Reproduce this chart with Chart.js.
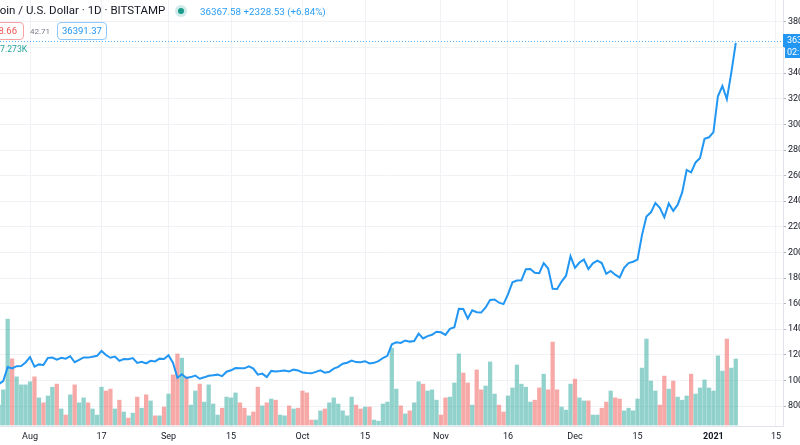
<!DOCTYPE html>
<html><head><meta charset="utf-8">
<script src="https://cdn.jsdelivr.net/npm/chart.js@4.4.1/dist/chart.umd.min.js"></script>
<style>
html,body{margin:0;padding:0;background:#fff;}
#wrap{position:relative;width:800px;height:445px;overflow:hidden;background:#fff;}
#c{position:absolute;left:0;top:0;}
.t{position:absolute;white-space:nowrap;font-family:Roboto,"Liberation Sans",sans-serif;line-height:1;}
.box{position:absolute;box-sizing:border-box;height:18px;border-radius:4px;background:#fff;font-family:Roboto,"Liberation Sans",sans-serif;font-size:9.5px;line-height:16px;white-space:nowrap;}
</style></head><body>
<div id="wrap">
<canvas id="c" width="800" height="445"></canvas>
<div class="t" style="left:-20px;top:5px;font-size:11.5px;color:#131722;">Bitcoin / U.S. Dollar · 1D · BITSTAMP</div>
<div style="position:absolute;left:175px;top:5px;width:12px;height:12px;border-radius:50%;background:rgba(38,166,154,0.22);"></div>
<div style="position:absolute;left:178px;top:8px;width:6px;height:6px;border-radius:50%;background:#1a9a88;"></div>
<div class="t" style="left:200px;top:6.5px;font-size:9.8px;color:#2a9df4;">36367.58 +2328.53 (+6.84%)</div>
<div class="box" style="left:-12px;top:22px;width:36px;border:1px solid #f5a3a3;color:#ef5350;text-align:right;padding-right:6px;">8.66</div>
<div class="t" style="left:30px;top:28px;font-size:8px;color:#787b86;">42.71</div>
<div class="box" style="left:57px;top:22px;width:50px;border:1px solid #90c8f8;color:#2196f3;padding-left:4px;">36391.37</div>
<div class="t" style="left:0px;top:45px;font-size:8.7px;color:#26a69a;">7.273K</div>
</div>
<script>
const days = [
'2020-07-24','2020-07-25','2020-07-26','2020-07-27','2020-07-28','2020-07-29','2020-07-30','2020-07-31',
'2020-08-01','2020-08-02','2020-08-03','2020-08-04','2020-08-05','2020-08-06','2020-08-07','2020-08-08','2020-08-09','2020-08-10',
'2020-08-11','2020-08-12','2020-08-13','2020-08-14','2020-08-15','2020-08-16','2020-08-17','2020-08-18','2020-08-19','2020-08-20',
'2020-08-21','2020-08-22','2020-08-23','2020-08-24','2020-08-25','2020-08-26','2020-08-27','2020-08-28','2020-08-29','2020-08-30','2020-08-31',
'2020-09-01','2020-09-02','2020-09-03','2020-09-04','2020-09-05','2020-09-06','2020-09-07','2020-09-08','2020-09-09','2020-09-10',
'2020-09-11','2020-09-12','2020-09-13','2020-09-14','2020-09-15','2020-09-16','2020-09-17','2020-09-18','2020-09-19','2020-09-20',
'2020-09-21','2020-09-22','2020-09-23','2020-09-24','2020-09-25','2020-09-26','2020-09-27','2020-09-28','2020-09-29','2020-09-30',
'2020-10-01','2020-10-02','2020-10-03','2020-10-04','2020-10-05','2020-10-06','2020-10-07','2020-10-08','2020-10-09','2020-10-10',
'2020-10-11','2020-10-12','2020-10-13','2020-10-14','2020-10-15','2020-10-16','2020-10-17','2020-10-18','2020-10-19','2020-10-20',
'2020-10-21','2020-10-22','2020-10-23','2020-10-24','2020-10-25','2020-10-26','2020-10-27','2020-10-28','2020-10-29','2020-10-30','2020-10-31',
'2020-11-01','2020-11-02','2020-11-03','2020-11-04','2020-11-05','2020-11-06','2020-11-07','2020-11-08','2020-11-09','2020-11-10',
'2020-11-11','2020-11-12','2020-11-13','2020-11-14','2020-11-15','2020-11-16','2020-11-17','2020-11-18','2020-11-19','2020-11-20',
'2020-11-21','2020-11-22','2020-11-23','2020-11-24','2020-11-25','2020-11-26','2020-11-27','2020-11-28','2020-11-29','2020-11-30',
'2020-12-01','2020-12-02','2020-12-03','2020-12-04','2020-12-05','2020-12-06','2020-12-07','2020-12-08','2020-12-09','2020-12-10',
'2020-12-11','2020-12-12','2020-12-13','2020-12-14','2020-12-15','2020-12-16','2020-12-17','2020-12-18','2020-12-19','2020-12-20',
'2020-12-21','2020-12-22','2020-12-23','2020-12-24','2020-12-25','2020-12-26','2020-12-27','2020-12-28','2020-12-29','2020-12-30','2020-12-31',
'2021-01-01','2021-01-02','2021-01-03','2021-01-04','2021-01-05','2021-01-06'
];
const closes = [
9550,9710,9950,11040,10930,11110,11120,11400,
11820,11080,11250,11200,11760,11790,11620,11760,11700,11890,
11420,11600,11790,11780,11850,11920,12300,11980,11770,11860,
11530,11670,11650,11740,11360,11460,11330,11530,11480,11700,11670,
11960,11380,10200,10480,10190,10260,10380,10130,10240,10360,
10400,10450,10330,10680,10790,10960,10950,10940,11090,10920,
10450,10530,10260,10740,10690,10730,10780,10700,10840,10780,
10620,10570,10550,10670,10790,10600,10670,10920,11060,11300,
11380,11550,11430,11420,11500,11320,11370,11510,11750,11920,
12820,12980,12930,13120,13030,13070,13650,13280,13460,13560,13800,
13760,13560,14030,14150,15600,15580,14830,15480,15330,15300,
15700,16280,16320,16070,15960,16720,17660,17800,17820,18680,
18700,18410,18370,19160,18740,17150,17140,17720,18180,19700,
18790,19210,19440,18700,19150,19360,19170,18330,18550,18260,
18040,18800,19170,19270,19440,21350,22800,23130,23860,23480,
22740,23820,23240,23730,24690,26440,26250,27030,27370,28880,28990,
29400,32200,33000,31970,34039.05,36367.58
];
const volumes = [
9.0,5.2,9.2,27.7,17.3,12.6,10.5,10.5,
11.3,12.6,7.1,5.8,7.6,9.9,10.7,4.2,2.6,7.9,
10.5,5.8,7.1,5.8,4.2,2.6,9.9,8.9,9.4,4.2,
6.5,3.4,1.8,3.1,7.3,4.4,7.9,6.3,2.4,2.4,4.7,
8.1,13.1,18.6,17.5,12.6,5.2,8.9,10.7,6.0,10.5,
5.5,2.6,4.4,7.3,7.1,8.4,5.8,4.4,2.4,3.4,
9.9,5.0,5.8,6.8,6.5,2.6,2.4,5.0,4.2,4.4,
8.9,8.4,1.3,1.3,3.7,4.2,5.8,7.1,5.5,3.7,
2.4,7.3,5.2,4.2,4.7,4.7,1.3,1.0,5.5,6.0,
20.1,9.4,5.0,2.9,3.7,5.8,11.3,10.7,8.9,9.2,6.5,
2.6,7.1,7.3,11.0,18.6,13.6,11.0,5.2,14.4,9.2,
10.2,16.5,8.1,5.2,3.4,7.6,9.7,15.7,10.7,9.9,
6.0,6.5,9.7,13.3,9.2,21.7,9.2,4.7,3.9,10.7,
12.0,7.1,6.3,6.3,2.6,2.6,4.4,6.0,8.9,7.1,
6.8,3.7,4.4,3.7,6.8,14.9,22.5,11.5,8.9,5.2,
12.8,9.4,11.5,7.3,6.5,7.6,13.3,8.1,9.7,11.8,9.7,
8.9,18.1,14.1,22.5,14.9,17.273
];
const priceTicks = [8000,10000,12000,14000,16000,18000,20000,22000,24000,26000,28000,30000,32000,34000,36000,38000];
const timeTickDates = ['2020-08-01','2020-08-17','2020-09-01','2020-09-15','2020-10-01','2020-10-15','2020-11-01','2020-11-16','2020-12-01','2020-12-15','2021-01-01','2021-01-15'];
const timeTickLabels = ['Aug','17','Sep','15','Oct','15','Nov','16','Dec','15','2021','15'];

const t0 = Date.parse(days[0]);
const dayIndex = d => Math.round((Date.parse(d) - t0) / 864e5);
const lastClose = closes[closes.length - 1];
const TEAL = 'rgba(38,166,154,0.5)', RED = 'rgba(239,83,80,0.5)', BLUE = '#2196f3';
const upDays = closes.map((c, i) => i === 0 ? true : c >= closes[i - 1]);
const lineData = closes.map((c, i) => ({x: dayIndex(days[i]), y: c}));
const volData = volumes.map((v, i) => ({x: dayIndex(days[i]), y: v}));
const FONT = 'Roboto, "Liberation Sans", sans-serif';

const pricePlugin = {
  id: 'priceLine',
  beforeDatasetsDraw(chart) {
    const {ctx, chartArea: a, scales: {y}} = chart;
    const py = Math.round(y.getPixelForValue(lastClose)) - 1.5;
    ctx.save();
    ctx.strokeStyle = 'rgba(33,150,243,0.75)'; ctx.lineWidth = 1; ctx.setLineDash([1, 2]);
    ctx.beginPath(); ctx.moveTo(a.left, py); ctx.lineTo(a.right, py); ctx.stroke();
    ctx.restore();
  },
  afterDraw(chart) {
    const {ctx, chartArea: a, scales: {y}, width} = chart;
    const py = Math.round(y.getPixelForValue(lastClose)) - 2;
    ctx.save();
    ctx.fillStyle = BLUE;
    ctx.fillRect(a.right, py - 7, width - a.right, 13);
    ctx.fillRect(a.right + 2, py + 6, width - a.right - 2, 11);
    ctx.fillStyle = '#fff'; ctx.font = '9px ' + FONT; ctx.textBaseline = 'middle'; ctx.textAlign = 'left';
    ctx.fillText(lastClose.toFixed(2), a.right + 4, py - 0.5);
    ctx.fillText('02:13:47', a.right + 4, py + 11.5);
    ctx.restore();
  }
};

new Chart(document.getElementById('c').getContext('2d'), {
  type: 'bar',
  data: {
    datasets: [
      {type: 'line', data: lineData, yAxisID: 'y', xAxisID: 'x', borderColor: BLUE, borderWidth: 2,
       pointRadius: 0, tension: 0, order: 0, fill: false},
      {type: 'bar', data: volData, yAxisID: 'v', xAxisID: 'x',
       backgroundColor: upDays.map(u => u ? TEAL : RED), borderWidth: 0, barThickness: 3.6, order: 1}
    ]
  },
  options: {
    responsive: false, animation: false, events: [],
    layout: {padding: 0},
    plugins: {legend: {display: false}, tooltip: {enabled: false}},
    scales: {
      x: {
        type: 'linear', position: 'bottom', min: 1.28, max: 176.57, offset: false,
        afterBuildTicks: s => { s.ticks = timeTickDates.map(d => ({value: dayIndex(d)})); },
        afterFit: s => { s.height = 19; s.paddingLeft = 0; s.paddingRight = 0; },
        ticks: {
          autoSkip: false, maxRotation: 0, minRotation: 0, padding: 5, color: '#131722',
          font: c => ({family: FONT, size: 9, weight: c.index === 10 ? 'bold' : 'normal'}),
          callback: (v, i) => timeTickLabels[i]
        },
        grid: {color: '#f0f2f5', drawTicks: false, offset: false},
        border: {display: true, color: '#e0e3eb'}
      },
      y: {
        type: 'linear', position: 'right', min: 6437.5, max: 39718.75,
        afterBuildTicks: s => { s.ticks = priceTicks.map(v => ({value: v})); },
        afterFit: s => { s.width = 17; s.paddingTop = 0; s.paddingBottom = 0; },
        ticks: {autoSkip: false, padding: 2, color: '#131722', font: {family: FONT, size: 9}, callback: v => String(v)},
        grid: {color: '#f0f2f5', tickLength: 3, tickColor: '#b2b5be'},
        border: {display: true, color: '#e0e3eb'}
      },
      v: {type: 'linear', display: false, min: -0.26, max: 111.23}
    }
  },
  plugins: [pricePlugin]
});
</script>
</body></html>
